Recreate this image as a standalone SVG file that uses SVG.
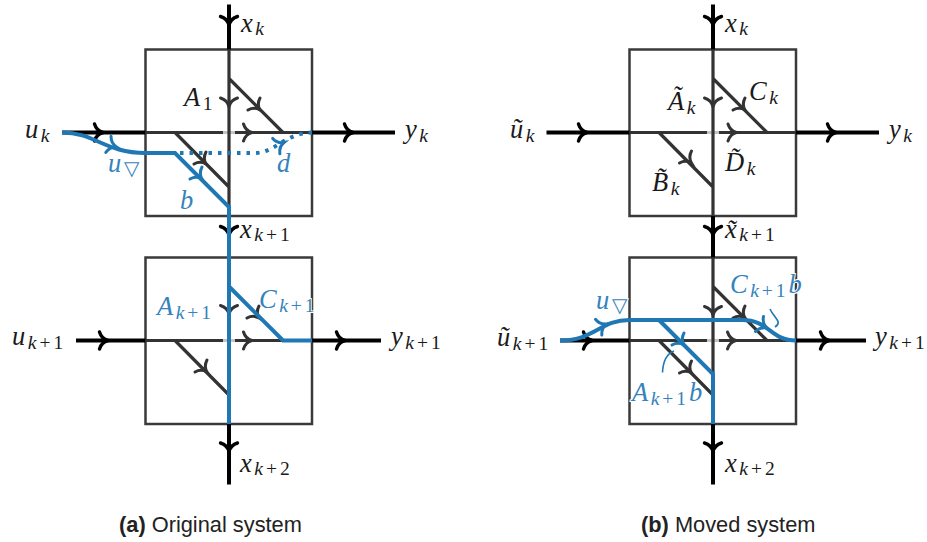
<svg xmlns="http://www.w3.org/2000/svg" width="927" height="542" viewBox="0 0 927 542">
<style>
text{font-family:"Liberation Serif",serif;font-size:26.5px;font-style:italic;fill:#1a1a1a;letter-spacing:2.5px}
.b{fill:#3483bd;paint-order:stroke;stroke:#fff;stroke-width:2px}
.s{font-size:19.5px;letter-spacing:3px}
.u{font-style:normal}
.cap{font-family:"Liberation Sans",sans-serif;font-size:21.8px;font-style:normal;fill:#222;letter-spacing:0}
.box{fill:none;stroke:#3a3a3a;stroke-width:2.5}
.k{fill:none;stroke:#000;stroke-width:4}
.d{fill:none;stroke:#333;stroke-width:3.2}
.g{fill:none;stroke:#c4c4c4;stroke-width:3}
.bl{fill:none;stroke:#1f77b4;stroke-width:4}
.dot{fill:none;stroke:#1f77b4;stroke-width:4;stroke-dasharray:3.5 6}
.thin{fill:none;stroke:#1f77b4;stroke-width:1.6}
.ak{fill:none;stroke:#000;stroke-width:3.4;stroke-linecap:round}
.ad{fill:none;stroke:#333;stroke-width:3;stroke-linecap:round}
.ab{fill:none;stroke:#1f77b4;stroke-width:3;stroke-linecap:round}
</style>
<defs>
<path id="h" d="M-8.500 -8.500C-7 -3.500 -3 -0.800 0 0C-3 0.800 -7 3.500 -8.500 8.500"/>
</defs>
<rect width="927" height="542" fill="#fff"/>

<g id="box-a1"><rect class="box" x="145.500" y="49.500" width="166.500" height="166.500"/></g>
<g id="box-a2"><rect class="box" x="145.500" y="257.500" width="166.500" height="166.500"/></g>
<g id="box-b1"><rect class="box" x="629.500" y="49.500" width="166.500" height="166.500"/></g>
<g id="box-b2"><rect class="box" x="629.500" y="257.500" width="166.500" height="166.500"/></g>

<g id="connectors">
<path class="k" d="M229 4.500V49.500M229 216V257.500M229 424V484.500"/>
<path class="k" d="M62 132.500H145.500M312 132.500H395M76 340.500H145.500M312 340.500H381"/>
<path class="d" d="M145.500 132.500H223M234.500 132.500H312M145.500 340.500H223M234.500 340.500H312"/>
<path class="g" d="M223 132.500H235M223 340.500H235"/>
<path class="d" d="M229 49.500V216M229.500 79L283 132.500M175 132.500L229 187M175 340.500L229 395"/>
<g class="ak"><use href="#h" transform="translate(103 132.500)"/><use href="#h" transform="translate(353 132.500)"/><use href="#h" transform="translate(229 25) rotate(90)"/><use href="#h" transform="translate(229 235) rotate(90)"/><use href="#h" transform="translate(108 340.500)"/><use href="#h" transform="translate(345 340.500)"/><use href="#h" transform="translate(229 451.500) rotate(90)"/></g>
<g class="ad"><use href="#h" transform="translate(229 106.500) rotate(90)"/><use href="#h" transform="translate(252 132.500)"/><use href="#h" transform="translate(260 110) rotate(45)"/><use href="#h" transform="translate(206 164) rotate(45)"/><use href="#h" transform="translate(229 314) rotate(90)"/><use href="#h" transform="translate(252 340.500)"/><use href="#h" transform="translate(259 318) rotate(45)"/><use href="#h" transform="translate(207 372) rotate(45)"/></g>
<path class="bl" d="M62 132.500C95 132.500 105 153 145.500 153H175L229 207V424M229.500 287L283 340.500H312"/>
<path class="dot" d="M180 153H255C275 153 285 133 312 132.500"/>
<g class="ab"><use href="#h" transform="translate(116.500 147) rotate(18)"/><use href="#h" transform="translate(202 179) rotate(45)"/><use href="#h" transform="translate(284 142.500) rotate(-25)"/></g>

<path class="k" d="M713 4.500V49.500M713 216V257.500M713 424V484.500"/>
<path class="k" d="M546.500 132.500H629.500M796 132.500H879M560 340.500H629.500M796 340.500H866"/>
<path class="d" d="M629.500 132.500H707M718.500 132.500H796M629.500 340.500H707M718.500 340.500H796"/>
<path class="g" d="M707 132.500H719M707 340.500H719"/>
<path class="d" d="M713 49.500V216M713 257.500V424M713.500 79L767 132.500M659 132.500L713 187M713.500 287L767 340.500M659 340.500L713 395"/>
<g class="ak"><use href="#h" transform="translate(587 132.500)"/><use href="#h" transform="translate(836 132.500)"/><use href="#h" transform="translate(713 25) rotate(90)"/><use href="#h" transform="translate(713 235) rotate(90)"/><use href="#h" transform="translate(592 340.500)"/><use href="#h" transform="translate(829 340.500)"/><use href="#h" transform="translate(713 451.500) rotate(90)"/></g>
<g class="ad"><use href="#h" transform="translate(713 106.500) rotate(90)"/><use href="#h" transform="translate(736.500 132.500)"/><use href="#h" transform="translate(745 110) rotate(45)"/><use href="#h" transform="translate(691.500 163) rotate(45)"/><use href="#h" transform="translate(713 315) rotate(90)"/><use href="#h" transform="translate(736 340.500)"/><use href="#h" transform="translate(745 318) rotate(45)"/><use href="#h" transform="translate(691.500 373) rotate(45)"/></g>
<path class="bl" d="M560 340.500C595 340.500 600 320 629.500 320H742C770 320 770 340.500 796 340.500M659 320L713 374V424"/>
<g class="ab"><use href="#h" transform="translate(606.500 324) rotate(-22)"/><use href="#h" transform="translate(684 345) rotate(45)"/><use href="#h" transform="translate(767 328) rotate(28)"/></g>
<path class="thin" d="M770 309C774 318 783 322 775 327"/>
<path class="thin" d="M662.500 372.500C663 362 666 354 674 351"/>
</g>

<g id="labels">
<text x="241" y="32">x<tspan class="s" dy="3">k</tspan></text>
<text x="25" y="138">u<tspan class="s" dy="4">k</tspan></text>
<text x="405" y="138">y<tspan class="s" dy="4">k</tspan></text>
<text x="184" y="106">A<tspan class="s u" dy="4">1</tspan></text>
<text class="b" x="108" y="172">u<tspan class="s u" dy="3">▽</tspan></text>
<text class="b" x="277" y="172">d</text>
<text class="b" x="180" y="209">b</text>
<text x="240" y="238">x<tspan class="s" dy="3">k<tspan class="u">+1</tspan></tspan></text>
<text x="12" y="345">u<tspan class="s" dy="4">k<tspan class="u">+1</tspan></tspan></text>
<text x="391" y="345">y<tspan class="s" dy="4">k<tspan class="u">+1</tspan></tspan></text>
<text class="b" x="157" y="315">A<tspan class="s" dy="4">k<tspan class="u">+1</tspan></tspan></text>
<text class="b" x="259" y="308">C<tspan class="s" dy="4">k<tspan class="u">+1</tspan></tspan></text>
<text x="240" y="472">x<tspan class="s" dy="3">k<tspan class="u">+2</tspan></tspan></text>

<text x="725" y="32">x<tspan class="s" dy="3">k</tspan></text>
<text x="510" y="138">ũ<tspan class="s" dy="4">k</tspan></text>
<text x="889" y="138">y<tspan class="s" dy="4">k</tspan></text>
<text x="668" y="110">Ã<tspan class="s" dy="4">k</tspan></text>
<text x="749" y="100">C<tspan class="s" dy="4">k</tspan></text>
<text x="725" y="171">D̃<tspan class="s" dy="4">k</tspan></text>
<text x="652" y="191">B̃<tspan class="s" dy="4">k</tspan></text>
<text x="725" y="238">x̃<tspan class="s" dy="3">k<tspan class="u">+1</tspan></tspan></text>
<text x="497" y="346">ũ<tspan class="s" dy="4">k<tspan class="u">+1</tspan></tspan></text>
<text x="875" y="345">y<tspan class="s" dy="4">k<tspan class="u">+1</tspan></tspan></text>
<text class="b" x="596" y="309">u<tspan class="s u" dy="3">▽</tspan></text>
<text class="b" x="730" y="293">C<tspan class="s" dy="4">k<tspan class="u">+1</tspan></tspan><tspan dy="-4">b</tspan></text>
<text class="b" x="632" y="401">A<tspan class="s" dy="4">k<tspan class="u">+1</tspan></tspan><tspan dy="-4">b</tspan></text>
<text x="725" y="472">x<tspan class="s" dy="3">k<tspan class="u">+2</tspan></tspan></text>
</g>

<g id="captions">
<text class="cap" x="119" y="532"><tspan font-weight="bold">(a)</tspan> Original system</text>
<text class="cap" x="641" y="532"><tspan font-weight="bold">(b)</tspan> Moved system</text>
</g>
</svg>
